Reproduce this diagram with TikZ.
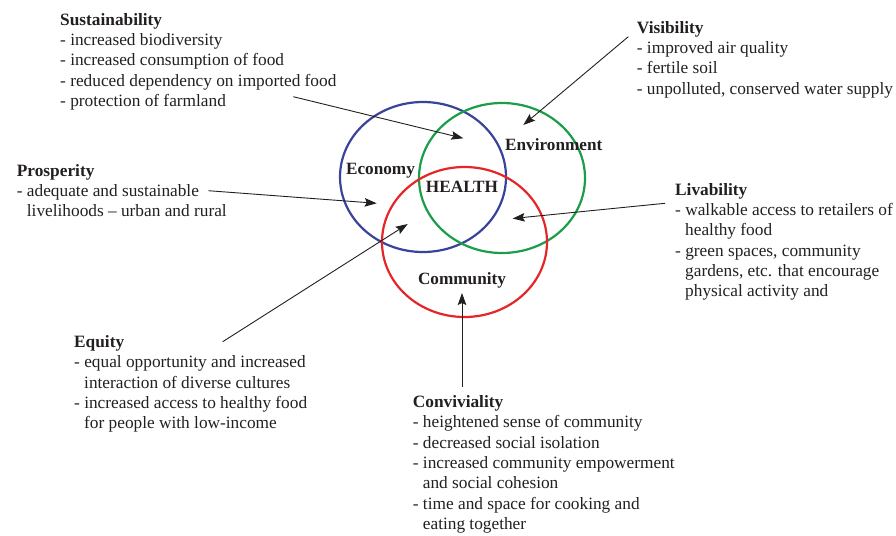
\documentclass[tikz,border=0pt]{standalone}
\usepackage{fontspec}
\setmainfont{Liberation Serif}
\usetikzlibrary{arrows.meta}
\definecolor{txt}{HTML}{231F20}
\definecolor{cblue}{HTML}{3A439A}
\definecolor{cgreen}{HTML}{1B9D4A}
\definecolor{cred}{HTML}{E52629}
\newcommand\contind{\hspace*{10pt}}
\newcommand\firstln{\rule{0pt}{12pt}}
\tikzset{
  block/.style={anchor=north west, inner sep=0pt, align=left, text=txt,
    font=\fontsize{17.3}{20.3}\selectfont},
  setlabel/.style={inner sep=0pt, text=txt, font=\fontsize{17.2}{20.3}\selectfont\bfseries},
  ring/.style={line width=2.2pt},
  pointer/.style={draw=txt, line width=0.9pt, -{Stealth[length=12pt,width=8.5pt,inset=2pt]}}
}
\begin{document}
\begin{tikzpicture}[x=1pt,y=-1pt]
\useasboundingbox (0,0) rectangle (896,535);
% ellipses
\draw[ring, cblue] (423,177) ellipse [x radius=83, y radius=75];
\draw[ring, cgreen] (502,178) ellipse [x radius=83, y radius=75];
\draw[ring, cred] (464.5,242) ellipse [x radius=82.5, y radius=75];
% set labels
\node[setlabel, anchor=base] (econ) at (380.5,174.3) {Economy};
\node[setlabel, anchor=base west] (env) at (505,150) {Environment};
\node[setlabel, anchor=base] (health) at (462,192.7) {HEALTH};
\node[setlabel, anchor=base] (comm) at (462,284) {Community};
% text blocks
\node[block] (sust) at (60,13) {\firstln\textbf{Sustainability}\\
- increased biodiversity\\
- increased consumption of food\\
- reduced dependency on imported food\\
- protection of farmland};
\node[block] (vis) at (636.7,21) {\firstln\textbf{Visibility}\\
- improved air quality\\
- fertile soil\\
- unpolluted, conserved water supply};
\node[block] (pros) at (16.7,164) {\firstln\textbf{Prosperity}\\
- adequate and sustainable\\
\contind livelihoods -- urban and rural};
\node[block] (liv) at (675,183) {\firstln\textbf{Livability}\\
- walkable access to retailers of\\
\contind healthy food\\
- green spaces, community\\
\contind gardens, etc. that encourage\\
\contind physical activity and};
\node[block] (equ) at (74,335.3) {\firstln\textbf{Equity}\\
- equal opportunity and increased\\
\contind interaction of diverse cultures\\
- increased access to healthy food\\
\contind for people with low-income};
\node[block] (conv) at (412.7,395.3) {\firstln\textbf{Conviviality}\\
- heightened sense of community\\
- decreased social isolation\\
- increased community empowerment\\
\contind and social cohesion\\
- time and space for cooking and\\
\contind eating together};
% arrow ends
\coordinate (sustS) at (293.3,96.7);
\coordinate (sustT) at (463.3,138.3);
\coordinate (visS) at (628.3,36.7);
\coordinate (visT) at (523.3,125);
\coordinate (prosS) at (208.3,190.7);
\coordinate (prosT) at (376.7,203.3);
\coordinate (livS) at (665,203.3);
\coordinate (livT) at (512.7,218.5);
\coordinate (equS) at (222.7,341.7);
\coordinate (equT) at (407.7,224);
\coordinate (convS) at (462,387);
\coordinate (convT) at (462,293);
\draw[pointer] (sustS) -- (sustT);
\draw[pointer] (visS) -- (visT);
\draw[pointer] (prosS) -- (prosT);
\draw[pointer] (livS) -- (livT);
\draw[pointer] (equS) -- (equT);
\draw[pointer] (convS) -- (convT);
\end{tikzpicture}
\end{document}
